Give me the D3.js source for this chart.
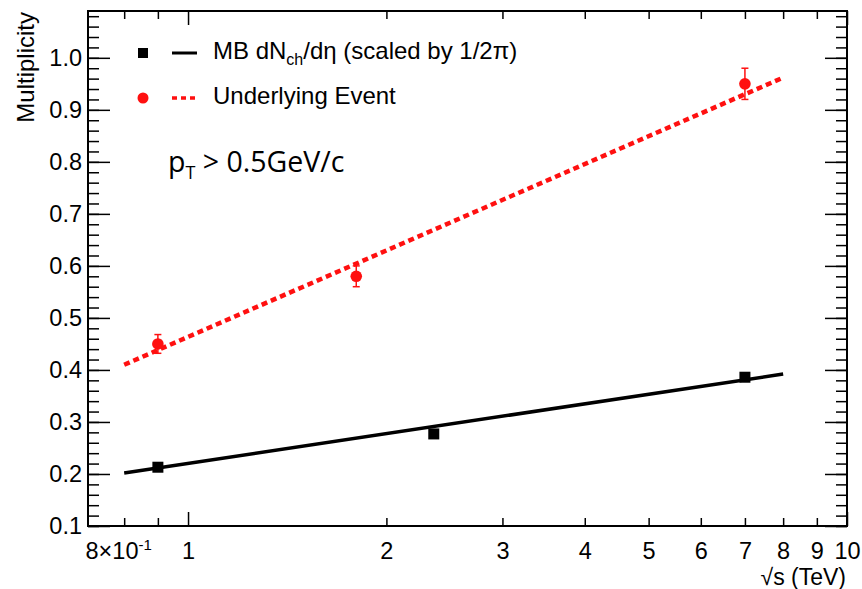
<!DOCTYPE html>
<html>
<head>
<meta charset="utf-8">
<script src="https://cdn.jsdelivr.net/npm/d3@7"></script>
<style>
  html, body { margin: 0; padding: 0; background: #fff; }
  svg { display: block; }
  .axis text { font-family: "Liberation Sans", Arial, sans-serif; font-size: 23.5px; fill: #000; }
  .axis path { display: none; }
  .axis line { stroke: #000; stroke-width: 1.5; }
</style>
</head>
<body>
<div id="chart"></div>
<script>
// sqrt(s) in TeV vs multiplicity
const mbEnergy = [0.9, 2.36, 7];
const mbMult = [0.213, 0.277, 0.386];
const ueEnergy = [0.9, 1.8, 7];
const ueMult = [0.45, 0.58, 0.95];
const ueErr = [0.018, 0.02, 0.03];

// fitted trend lines (end points)
const fitEnergy = [0.8, 8];
const mbFit = [0.202, 0.392];
const ueFit = [0.41, 0.962];

const xTicks = [0.8, 0.9, 1, 2, 3, 4, 5, 6, 7, 8, 9, 10];
const yMajor = [0.1, 0.2, 0.3, 0.4, 0.5, 0.6, 0.7, 0.8, 0.9, 1.0];
const yMinor = d3.range(0.1, 1.0901, 0.02);

const width = 862, height = 589;
const box = { left: 88, right: 847, top: 11, bottom: 526 };

const x = d3.scaleLog().domain([0.705, 10]).range([box.left, box.right]);
const y = d3.scaleLinear().domain([0.1, 1.09]).range([box.bottom, box.top]);

const svg = d3.select('#chart').append('svg')
  .attr('width', width)
  .attr('height', height);

// Axes — ticks drawn inward like ROOT
const xFmt = d => d === 0.8 ? '8×10' : (d === 0.9 ? '' : String(d));

const xBottom = svg.append('g').attr('class', 'axis')
  .attr('transform', `translate(0,${box.bottom})`)
  .call(d3.axisBottom(x).tickValues(xTicks).tickSize(-8).tickPadding(16).tickFormat(xFmt));
xBottom.selectAll('.tick').filter(d => d === 1 || d === 10).select('line').attr('y2', -14);
xBottom.selectAll('.tick').filter(d => d === 0.8).select('text')
  .attr('dx', -6)
  .append('tspan').attr('dy', -9).attr('font-size', 15).text('-1');

const xTop = svg.append('g').attr('class', 'axis')
  .attr('transform', `translate(0,${box.top})`)
  .call(d3.axisTop(x).tickValues(xTicks).tickSize(-8).tickFormat(''));
xTop.selectAll('.tick').filter(d => d === 1 || d === 10).select('line').attr('y2', 14);

svg.append('g').attr('class', 'axis')
  .attr('transform', `translate(${box.left},0)`)
  .call(d3.axisLeft(y).tickValues(yMinor).tickSize(-11).tickFormat(''));
svg.append('g').attr('class', 'axis')
  .attr('transform', `translate(${box.left},0)`)
  .call(d3.axisLeft(y).tickValues(yMajor).tickSize(-22).tickPadding(6).tickFormat(d3.format('.1f')));

svg.append('g').attr('class', 'axis')
  .attr('transform', `translate(${box.right},0)`)
  .call(d3.axisRight(y).tickValues(yMinor).tickSize(-11).tickFormat(''));
svg.append('g').attr('class', 'axis')
  .attr('transform', `translate(${box.right},0)`)
  .call(d3.axisRight(y).tickValues(yMajor).tickSize(-22).tickFormat(''));

// frame
svg.append('rect')
  .attr('x', box.left).attr('y', box.top)
  .attr('width', box.right - box.left).attr('height', box.bottom - box.top)
  .attr('fill', 'none').attr('stroke', '#000').attr('stroke-width', 2);

// fit lines
const line = d3.line().x(d => x(d[0])).y(d => y(d[1]));
svg.append('path')
  .datum(d3.zip(fitEnergy, mbFit))
  .attr('d', line)
  .attr('fill', 'none').attr('stroke', '#000').attr('stroke-width', 3.5);
svg.append('path')
  .datum(d3.zip(fitEnergy, ueFit))
  .attr('d', line)
  .attr('fill', 'none').attr('stroke', '#ff1010').attr('stroke-width', 4.5)
  .attr('stroke-dasharray', '6,4');

// MB points
svg.selectAll('.mb')
  .data(d3.zip(mbEnergy, mbMult))
  .join('rect')
  .attr('class', 'mb')
  .attr('x', d => x(d[0]) - 5.5).attr('y', d => y(d[1]) - 5.5)
  .attr('width', 11).attr('height', 11)
  .attr('fill', '#000');

// UE points with error bars
const ue = d3.zip(ueEnergy, ueMult, ueErr);
const eb = svg.selectAll('.eb').data(ue).join('g').attr('class', 'eb')
  .attr('stroke', '#ff1010').attr('stroke-width', 1.5);
eb.append('line')
  .attr('x1', d => x(d[0])).attr('x2', d => x(d[0]))
  .attr('y1', d => y(d[1] - d[2])).attr('y2', d => y(d[1] + d[2]));
eb.append('line')
  .attr('x1', d => x(d[0]) - 3.5).attr('x2', d => x(d[0]) + 3.5)
  .attr('y1', d => y(d[1] - d[2])).attr('y2', d => y(d[1] - d[2]));
eb.append('line')
  .attr('x1', d => x(d[0]) - 3.5).attr('x2', d => x(d[0]) + 3.5)
  .attr('y1', d => y(d[1] + d[2])).attr('y2', d => y(d[1] + d[2]));
svg.selectAll('.ue')
  .data(ue)
  .join('circle')
  .attr('class', 'ue')
  .attr('cx', d => x(d[0])).attr('cy', d => y(d[1]))
  .attr('r', 5.8)
  .attr('fill', '#ff1010');

// Legend
const font = '"Liberation Sans", Arial, sans-serif';
const lg = svg.append('g').attr('font-family', font).attr('font-size', 24);
lg.append('rect').attr('x', 138).attr('y', 48).attr('width', 10).attr('height', 10).attr('fill', '#000');
lg.append('line').attr('x1', 172).attr('x2', 197).attr('y1', 53).attr('y2', 53)
  .attr('stroke', '#000').attr('stroke-width', 3);
const t1 = lg.append('text').attr('x', 213).attr('y', 59);
t1.append('tspan').text('MB dN');
t1.append('tspan').attr('font-size', 16).attr('dy', 6).text('ch');
t1.append('tspan').attr('dy', -6).text('/dη (scaled by 1/2π)');

lg.append('circle').attr('cx', 143).attr('cy', 98).attr('r', 5.5).attr('fill', '#ff1010');
lg.append('line').attr('x1', 172).attr('x2', 197).attr('y1', 98).attr('y2', 98)
  .attr('stroke', '#ff1010').attr('stroke-width', 3.5).attr('stroke-dasharray', '5,4');
lg.append('text').attr('x', 213).attr('y', 104).text('Underlying Event');

// cut label
const pt = svg.append('text').attr('x', 168).attr('y', 172)
  .attr('font-family', '"Open Sans", "Noto Sans", sans-serif').attr('font-size', 28.5).attr('fill', '#000');
pt.append('tspan').text('p');
pt.append('tspan').attr('font-size', 18).attr('dy', 7).text('T');
pt.append('tspan').attr('dy', -7).text(' > 0.5GeV/c');

// axis titles
svg.append('text')
  .attr('transform', 'translate(34,12) rotate(-90)')
  .attr('text-anchor', 'end')
  .attr('font-family', font).attr('font-size', 24)
  .text('Multiplicity');

svg.append('text')
  .attr('x', 846).attr('y', 585)
  .attr('text-anchor', 'end')
  .attr('font-family', font).attr('font-size', 23)
  .text('√s (TeV)');
</script>
</body>
</html>
